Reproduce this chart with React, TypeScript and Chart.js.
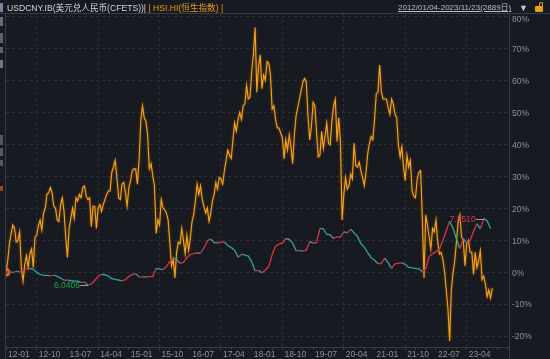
import React, { useEffect, useRef } from "react";
import { Chart, registerables } from "chart.js";

Chart.register(...registerables);

// x-axis tick labels, one every 9 months starting 2012-01
const tickLabels = ["12-01", "12-10", "13-07", "14-04", "15-01", "15-10", "16-07", "17-04", "18-01", "18-10", "19-07", "20-04", "21-01", "21-10", "22-07", "23-04"];

// HSI.HI index level, twice a month from 2012-01-04 to 2023-11
const hsiLevels = [
  18730, 19400, 20400, 21000, 21500, 21300, 20500, 20600, 21100, 19000, 18200, 19200, 19700, 19000, 19800, 20100, 19000, 20800, 20900, 21500, 21800, 21200, 22200, 22500,
  23300, 23400, 23700, 23400, 22600, 22500, 21800, 21700, 22700, 23100, 22300, 20800, 19600, 21300, 21900, 22500, 21900, 23100, 22900, 23300, 23100, 23700, 23800, 23200,
  23000, 23100, 21400, 22600, 22600, 21300, 22500, 22700, 22300, 22700, 23000, 23300, 23500, 23500, 24600, 24900, 25300, 24300, 23100, 23000, 23900, 24000, 23400, 22600,
  23700, 24100, 24700, 24800, 24800, 23900, 25300, 27600, 28500, 27800, 27600, 26800, 24800, 25100, 24400, 23800, 21000, 21800, 21500, 23000, 22500, 22400, 22200, 21800,
  20500, 19100, 19500, 18400, 19900, 20500, 20400, 21300, 20600, 19800, 20900, 20000, 20700, 21700, 22100, 22900, 23900, 23300, 23800, 23000, 22600, 22200, 22500, 21700,
  22200, 22900, 23300, 24000, 23600, 24300, 24200, 23900, 24700, 25300, 25900, 25600, 25400, 26500, 27500, 27000, 27700, 28100, 27700, 28500, 28600, 29700, 28900, 29000,
  30500, 31500, 33100, 29300, 30800, 31500, 29500, 30300, 30000, 31100, 31000, 30300, 28300, 28500, 27700, 27200, 27200, 26900, 26600, 25400, 26500, 25900, 26800, 26100,
  25100, 26800, 27900, 28400, 28900, 29400, 29900, 30100, 29900, 27900, 26500, 27300, 28700, 28500, 27000, 25500, 25600, 27000, 26000, 26700, 27500, 26300, 26200, 27600,
  28500, 28900, 26400, 27800, 26400, 21800, 23300, 24300, 23600, 23800, 24500, 24200, 26300, 25000, 24900, 25200, 24700, 24300, 23800, 24600, 25700, 26300, 26700, 26500,
  27700, 29200, 29300, 30900, 29300, 28900, 28900, 28900, 28400, 28000, 28900, 28600, 28000, 27800, 26200, 25500, 26100, 24900, 24100, 25600, 24900, 25300, 23500, 23200,
  23100, 24200, 24600, 24700, 21900, 18400, 22100, 21500, 20800, 20100, 21300, 21100, 21800, 20500, 19800, 19900, 19500, 18800, 17700, 16600, 14700, 17700, 18700, 19400,
  20500, 21700, 22100, 20800, 20600, 19100, 20400, 20600, 19900, 19900, 18600, 19900, 19000, 19400, 20000, 18300, 18500, 18000, 17300, 17700, 17200, 17800,
];

// USDCNY.IB (CFETS) level, monthly from 2012-01 to 2023-11
const usdLevels = [
  6.294, 6.300, 6.290, 6.312, 6.300, 6.335, 6.360, 6.372, 6.350, 6.290, 6.250, 6.232,
  6.231, 6.221, 6.237, 6.212, 6.180, 6.136, 6.138, 6.127, 6.120, 6.118, 6.093, 6.095,
  6.0406, 6.062, 6.130, 6.215, 6.250, 6.245, 6.218, 6.170, 6.152, 6.140, 6.122, 6.148,
  6.212, 6.250, 6.262, 6.200, 6.202, 6.201, 6.208, 6.210, 6.370, 6.355, 6.348, 6.402,
  6.503, 6.572, 6.545, 6.470, 6.488, 6.580, 6.640, 6.660, 6.672, 6.670, 6.772, 6.910,
  6.950, 6.880, 6.870, 6.890, 6.890, 6.820, 6.780, 6.730, 6.590, 6.650, 6.630, 6.610,
  6.500, 6.320, 6.330, 6.280, 6.340, 6.410, 6.640, 6.810, 6.850, 6.870, 6.960, 6.940,
  6.870, 6.720, 6.720, 6.710, 6.730, 6.900, 6.870, 6.880, 7.160, 7.150, 7.040, 7.030,
  6.960, 6.990, 6.990, 7.090, 7.070, 7.140, 7.070, 7.000, 6.860, 6.790, 6.680, 6.580,
  6.530, 6.460, 6.470, 6.570, 6.480, 6.370, 6.460, 6.470, 6.480, 6.450, 6.390, 6.380,
  6.370, 6.360, 6.310, 6.360, 6.600, 6.660, 6.700, 6.750, 6.920, 7.110, 7.300, 7.160,
  6.950, 6.760, 6.960, 6.870, 6.920, 7.100, 7.250, 7.150, 7.351, 7.310, 7.150,
];

const HSI_STEP = 0.5; // months between HSI samples
const USD_STEP = 1; // months between USDCNY samples
const X_MAX = 147.4; // months shown on the axis
const Y_MIN = -23.44;
const Y_MAX = 80.94;
const Y_TOP_TICK = 80;

const BG = "#171a20";
const GRID = "#2b2f37";
const AXIS = "#363b44";
const TICK_TEXT = "#8c919a";
const ORANGE = "#f5a31c";
const UP_RED = "#cf3340";
const DOWN_TEAL = "#2f9c98";
const TICK_FONT = '8.5px "Liberation Sans", Arial, sans-serif';

const pctPoints = (levels: number[], step: number) =>
  levels.map((v, i) => ({ x: i * step, y: (v / levels[0] - 1) * 100 }));

const framePlugin = {
  id: "frame",
  beforeDraw(chart: any) {
    const { ctx, width, height } = chart;
    ctx.save();
    ctx.fillStyle = BG;
    ctx.fillRect(0, 0, width, height);
    ctx.restore();
  },
  beforeDatasetDraw(chart: any, args: any) {
    if (args.index === 0) {
      chart.ctx.save();
      chart.ctx.shadowColor = "rgba(190,110,10,0.75)";
      chart.ctx.shadowBlur = 2.5;
    }
  },
  afterDatasetDraw(chart: any, args: any) {
    if (args.index === 0) chart.ctx.restore();
  },
  afterDraw(chart: any) {
    const { ctx, width, height, chartArea, scales } = chart;
    ctx.save();
    ctx.strokeStyle = AXIS;
    ctx.lineWidth = 1;
    ctx.beginPath();
    ctx.moveTo(0, chartArea.top - 0.5);
    ctx.lineTo(width, chartArea.top - 0.5);
    ctx.moveTo(chartArea.left - 0.5, chartArea.top);
    ctx.lineTo(chartArea.left - 0.5, height);
    ctx.moveTo(chartArea.right + 0.5, chartArea.top);
    ctx.lineTo(chartArea.right + 0.5, height);
    ctx.stroke();
    // topmost y label sits just inside the frame
    ctx.fillStyle = TICK_TEXT;
    ctx.font = TICK_FONT;
    ctx.textAlign = "left";
    ctx.textBaseline = "middle";
    const yTop = scales.y.getPixelForValue(Y_TOP_TICK);
    ctx.fillText(`${Y_TOP_TICK}%`, chartArea.right + 3, yTop + 3);
    ctx.restore();
  },
};

const extremaPlugin = {
  id: "extrema",
  afterDatasetsDraw(chart: any) {
    const { ctx, scales } = chart;
    const minV = Math.min(...usdLevels);
    const maxV = Math.max(...usdLevels);
    const items = [
      { v: minV, i: usdLevels.indexOf(minV), color: "#22a44c" },
      { v: maxV, i: usdLevels.indexOf(maxV), color: "#e2334a" },
    ];
    ctx.save();
    ctx.font = TICK_FONT;
    ctx.textBaseline = "middle";
    ctx.textAlign = "right";
    for (const it of items) {
      const px = scales.x.getPixelForValue(it.i * USD_STEP);
      const py = Math.round(scales.y.getPixelForValue((it.v / usdLevels[0] - 1) * 100)) + 0.5;
      ctx.strokeStyle = "#9aa0a8";
      ctx.lineWidth = 1;
      ctx.beginPath();
      ctx.moveTo(px - 8, py);
      ctx.lineTo(px, py);
      ctx.stroke();
      ctx.fillStyle = it.color;
      ctx.fillText(it.v.toFixed(4), px - 8, py);
    }
    ctx.restore();
  },
};

function ChartCanvas() {
  const ref = useRef<HTMLCanvasElement | null>(null);
  useEffect(() => {
    if (!ref.current) return;
    const hsi = pctPoints(hsiLevels, HSI_STEP);
    const usd = pctPoints(usdLevels, USD_STEP);
    const tickFont = { family: '"Liberation Sans", Arial, sans-serif', size: 8.5 };
    const chart = new Chart(ref.current, {
      type: "line",
      data: {
        datasets: [
          {
            label: "HSI.HI",
            data: hsi,
            borderColor: ORANGE,
            borderWidth: 1.1,
            pointRadius: (c: any) => (c.dataIndex === 0 ? 3 : 0),
            pointBorderColor: "#ff6a1a",
            pointBorderWidth: 2,
            pointBackgroundColor: "transparent",
            tension: 0,
            order: 2,
          },
          {
            label: "USDCNY.IB",
            data: usd,
            borderWidth: 1.4,
            borderColor: DOWN_TEAL,
            segment: {
              borderColor: (c: any) => (c.p1.parsed.y >= c.p0.parsed.y ? UP_RED : DOWN_TEAL),
            },
            pointRadius: 0,
            tension: 0,
            order: 1,
          },
        ],
      },
      options: {
        animation: false,
        responsive: false,
        devicePixelRatio: 1,
        layout: { padding: { left: 5, top: 14, right: 0, bottom: 0 } },
        plugins: { legend: { display: false }, tooltip: { enabled: false } },
        scales: {
          x: {
            type: "linear",
            min: 0,
            max: X_MAX,
            afterFit: (s: any) => {
              s.height = 12;
            },
            ticks: {
              stepSize: 3,
              autoSkip: false,
              includeBounds: false,
              maxRotation: 0,
              minRotation: 0,
              align: "start",
              labelOffset: 2,
              padding: 0,
              color: TICK_TEXT,
              font: tickFont,
              callback: (v: any) => {
                const n = Math.round(Number(v));
                if (n % 9 !== 0) return "";
                return tickLabels[n / 9] ?? "";
              },
            },
            grid: {
              color: (c: any) => (c.tick && Math.round(c.tick.value) % 18 === 9 ? GRID : "transparent"),
              tickColor: AXIS,
              tickLength: 3,
              lineWidth: 1,
            },
            border: { display: true, color: AXIS, dash: [3, 3] },
          },
          y: {
            position: "right",
            min: Y_MIN,
            max: Y_MAX,
            afterFit: (s: any) => {
              s.width = 41;
            },
            ticks: {
              stepSize: 10,
              includeBounds: false,
              padding: 3,
              labelOffset: 1,
              color: TICK_TEXT,
              font: tickFont,
              callback: (v: any) => {
                const n = Math.round(Number(v));
                return n === Y_TOP_TICK ? "" : `${n}%`;
              },
            },
            grid: { color: GRID, drawTicks: false, lineWidth: 1 },
            border: { display: false, dash: [3, 3] },
          },
        },
      },
      plugins: [framePlugin, extremaPlugin],
    } as any);
    return () => chart.destroy();
  }, []);
  return <canvas ref={ref} width={550} height={359} style={{ position: "absolute", left: 0, top: 0, width: 550, height: 359 }} />;
}

const sideMarks = [
  { y: 3, h: 9, c: "#9fb4d0" },
  { y: 17, h: 9, c: "#8a8f98" },
  { y: 33, h: 10, c: "#7d828b" },
  { y: 47, h: 6, c: "#7d828b" },
  { y: 60, h: 8, c: "#9a9fa8" },
  { y: 135, h: 10, c: "#6d727b" },
  { y: 148, h: 8, c: "#6d727b" },
  { y: 160, h: 6, c: "#6d727b" },
  { y: 186, h: 5, c: "#e0502a" },
];

export default function App() {
  const headFont = '"Liberation Sans", "Noto Sans CJK SC", Arial, sans-serif';
  return (
    <div style={{ position: "fixed", left: 0, top: 0, width: 550, height: 359, background: BG, overflow: "hidden" }}>
      <ChartCanvas />
      {sideMarks.map((m, i) => (
        <div key={i} style={{ position: "absolute", left: 0, top: m.y, width: 3, height: m.h, background: m.c, opacity: 0.7 }} />
      ))}
      <div style={{ position: "absolute", left: 7, top: 2, fontFamily: headFont, fontSize: 8.6, lineHeight: "12px", whiteSpace: "nowrap" }}>
        <span style={{ color: "#d2d5da" }}>USDCNY.IB(美元兑人民币(CFETS))|</span>
        <span style={{ color: "#e79a1c" }}> | HSI.HI(恒生指数) |</span>
      </div>
      <div style={{ position: "absolute", left: 398, top: 2, fontFamily: headFont, fontSize: 8, lineHeight: "12px", whiteSpace: "nowrap", color: "#b9bdc5", textDecoration: "underline" }}>
        2012/01/04-2023/11/23(2889日)
      </div>
      <div style={{ position: "absolute", left: 519, top: 2, fontFamily: headFont, fontSize: 9, lineHeight: "12px", color: "#c3c6cc" }}>▼</div>
      <div style={{ position: "absolute", left: 535, top: 6, width: 8, height: 6, background: "#e5a21a", borderRadius: 1 }} />
      <div style={{ position: "absolute", left: 539, top: 2, width: 4, height: 4, border: "1px solid #e5a21a", borderBottom: "none", borderRadius: "3px 3px 0 0", boxSizing: "border-box" }} />
    </div>
  );
}
